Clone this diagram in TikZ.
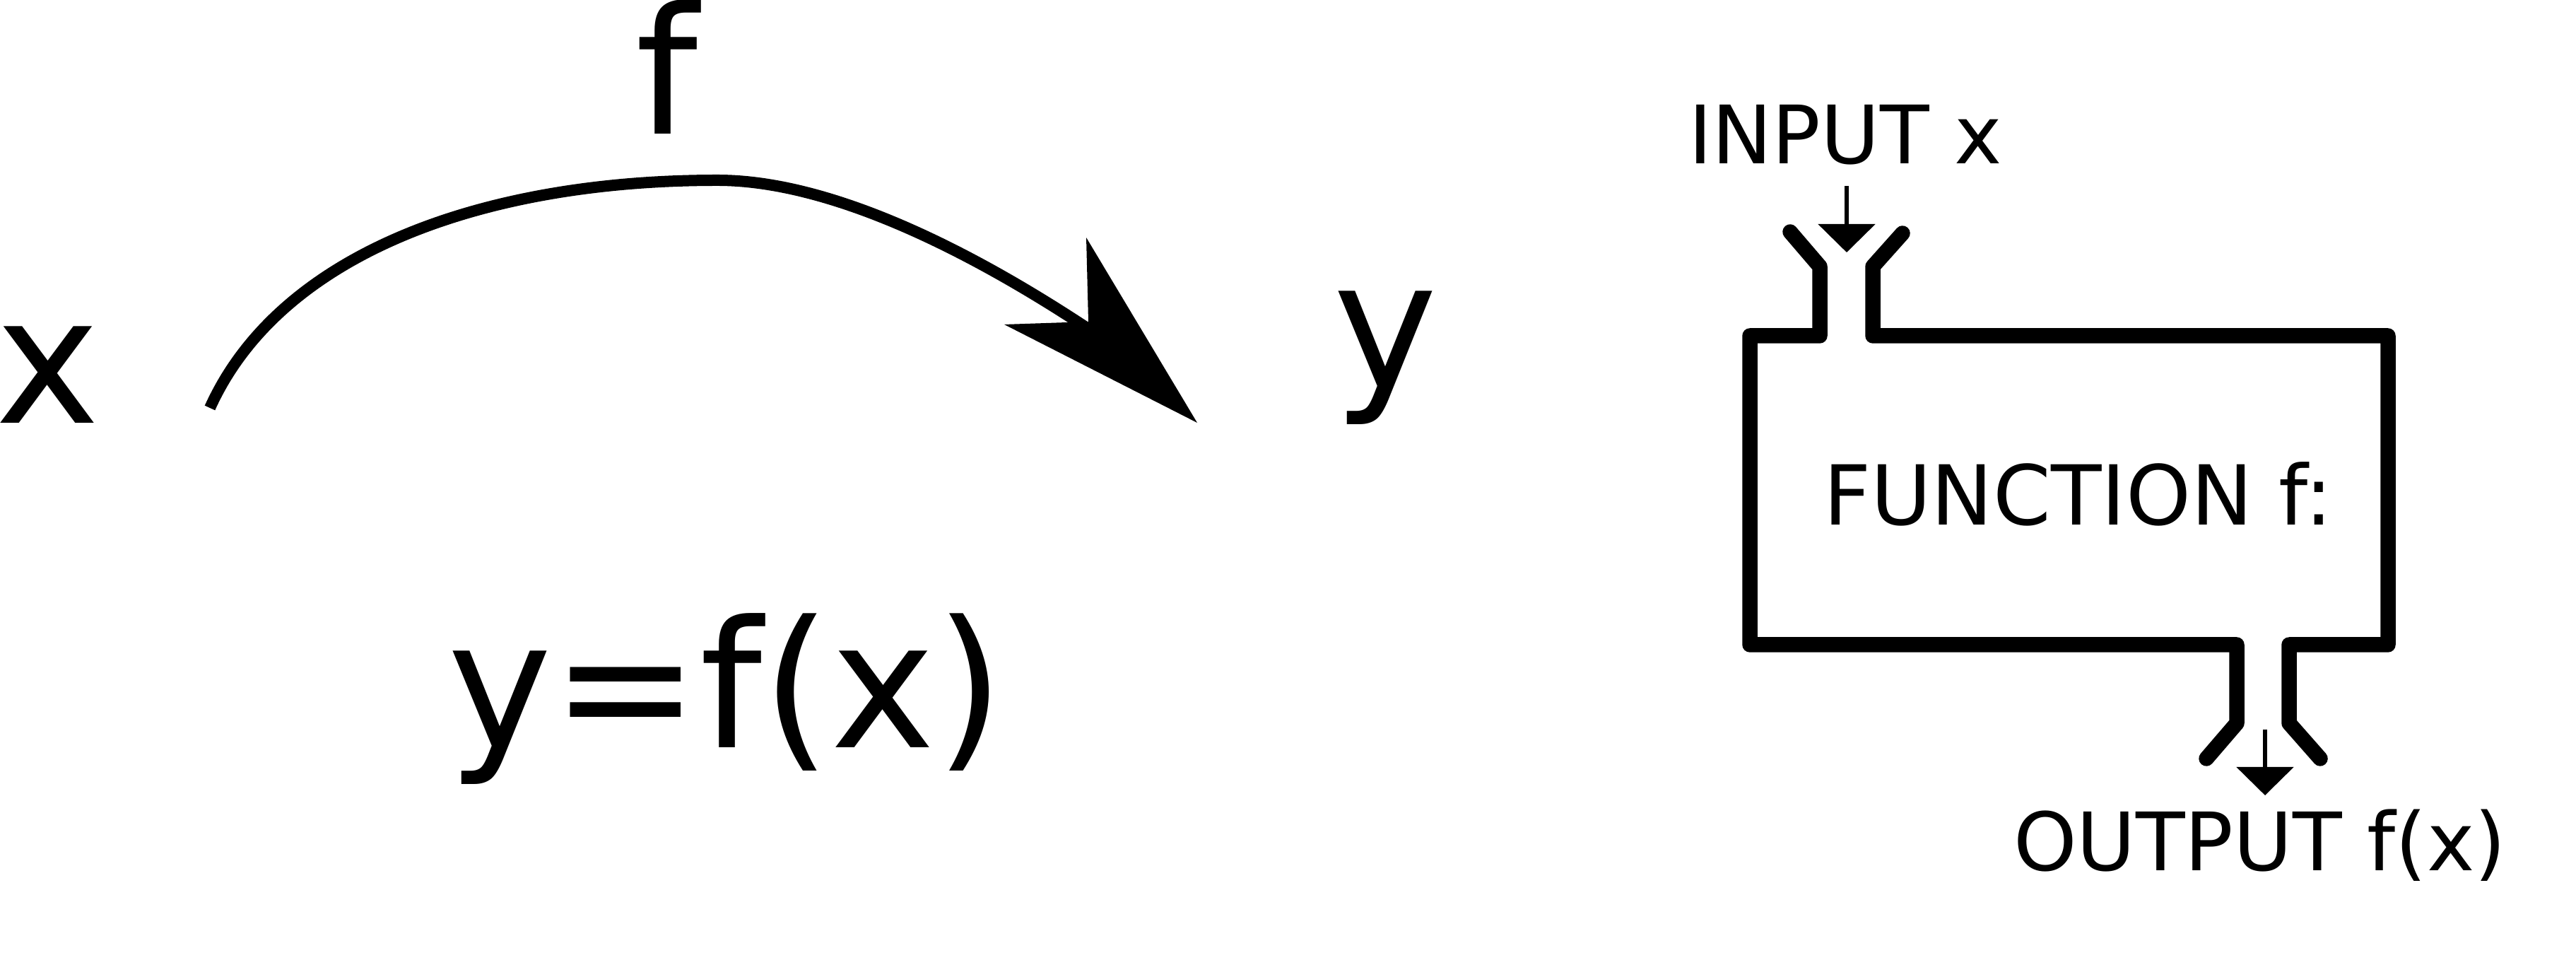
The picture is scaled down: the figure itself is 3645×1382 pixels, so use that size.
\documentclass[tikz,border=0pt]{standalone}
\usepackage{fontspec}
\setmainfont{DejaVu Sans}
\usetikzlibrary{arrows.meta}
\tikzset{
  big/.style={font=\fontsize{25pt}{30pt}\selectfont, inner sep=0pt, outer sep=0pt, anchor=base west},
  small/.style={font=\fontsize{11.4pt}{14pt}\selectfont, inner sep=0pt, outer sep=0pt, anchor=base west},
  mid/.style={font=\fontsize{11.7pt}{14pt}\selectfont, inner sep=0pt, outer sep=0pt, anchor=base west},
  wall/.style={line width=2.15pt, line cap=round, line join=round},
  curve/.style={line width=1.6pt},
  feed/.style={line width=0.6pt, -{Triangle[width=8pt,length=4pt]}},
}
\begin{document}
\begin{tikzpicture}[x=0.1pt,y=-0.1pt]
\useasboundingbox (0,0) rectangle (3645,1382);
\fill[white] (0,0) rectangle (3645,1382);

% left diagram
\node[big] (xlab) at (-7,599) {x};
\node[big] (flab) at (899,190) {f};
\node[big] (ylab) at (1886,549) {y};
\node[big] (eq) at (633,1058) {y=f(x)};

\coordinate (cs) at (297,577);
\coordinate (ctop) at (1015,255);
\coordinate (ce) at (1535,462);
\draw[curve] (cs) .. controls (395,360) and (680,255) .. (ctop)
                  .. controls (1180,255) and (1380,360) .. (ce);
\coordinate (tip) at (1694,598);
\fill (tip) -- (1421,459) -- (1540,455) -- (1537,336) -- cycle;

% right diagram: function box
\draw[wall] (2533,328) -- (2575,377) -- (2575,475) -- (2476,475) -- (2476,912)
            -- (3165,912) -- (3165,1023) -- (3122,1073);
\draw[wall] (2692,330) -- (2650,377) -- (2650,475) -- (3379,475) -- (3379,912)
            -- (3239,912) -- (3239,1023) -- (3283,1073);

\node[small] (inp) at (2389,232) {INPUT x};
\node[mid] (fun) at (2580,743) {FUNCTION f:};
\node[small] (outp) at (2849,1232) {OUTPUT f(x)};

\coordinate (ia) at (2613,263);
\coordinate (ib) at (2613,357);
\draw[feed] (ia) -- (ib);
\coordinate (oa) at (3205,1032);
\coordinate (ob) at (3205,1125);
\draw[feed] (oa) -- (ob);
\end{tikzpicture}
\end{document}
